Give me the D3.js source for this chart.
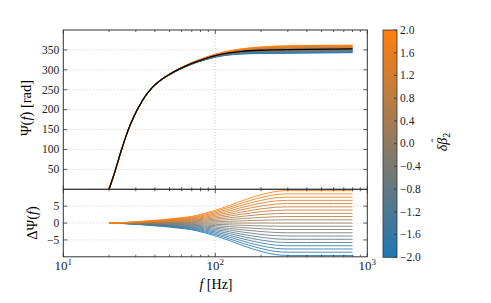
<!DOCTYPE html>
<html>
<head>
<meta charset="utf-8">
<script src="https://cdn.jsdelivr.net/npm/d3@7"></script>
<style>
  body { margin: 0; background: #fff; }
  svg { display: block; font-family: "Liberation Serif", serif; }
  .grid line { stroke: #c4c4c4; stroke-dasharray: 1,2; stroke-width: 0.8; }
  .tick-label { font-size: 11.5px; fill: #222; }
</style>
</head>
<body>
<div id="chart"></div>
<script>
// frequency samples (Hz)
const freqs = [20, 22, 24, 27, 30, 33, 36, 40, 45, 50, 56, 63, 70, 85, 100, 124, 150, 200, 250, 300, 400, 600, 800];
// central phase Psi(f) for delta beta = 0 (rad)
const psi0 = [0, 48, 96, 153.5, 192.5, 221.6, 242.8, 262, 277.6, 288.6, 299.1, 308.5, 316, 327.5, 335.5, 342.5, 346.3, 349.2, 350.3, 350.9, 351.6, 352.2, 352.5];
// phase shift for delta beta = +2 (rad)
const dpsiTop = [0, 0.05, 0.12, 0.25, 0.38, 0.52, 0.65, 0.82, 1.0, 1.2, 1.45, 1.7, 2.0, 2.9, 3.8, 5.2, 6.6, 8.4, 9.35, 9.6, 9.6, 9.6, 9.6];
// delta beta values, one curve each
const betas = [-2.0, -1.8, -1.6, -1.4, -1.2, -1.0, -0.8, -0.6, -0.4, -0.2, 0.0, 0.2, 0.4, 0.6, 0.8, 1.0, 1.2, 1.4, 1.6, 1.8, 2.0];
const topTicks = [50, 100, 150, 200, 250, 300, 350];
const bottomTicks = [-5, 0, 5];
const cbTicks = [-2.0, -1.6, -1.2, -0.8, -0.4, 0.0, 0.4, 0.8, 1.2, 1.6, 2.0];
const xMajor = [10, 100, 1000];

const width = 491, height = 303;
const plot = { left: 63.3, right: 367.3, top: 30, mid: 189.3, bottom: 256.8 };
const cb = { left: 383, right: 397, top: 30, bottom: 257.3 };

const svg = d3.select("#chart").append("svg")
    .attr("width", width).attr("height", height);

const x = d3.scaleLog().domain([10, 1000]).range([plot.left, plot.right]);
const yTop = d3.scaleLinear().domain([0, 400]).range([plot.mid, plot.top]);
const yBot = d3.scaleLinear().domain([-10, 10]).range([plot.bottom, plot.mid]);
const color = d3.scaleLinear().domain([-2, 2])
    .range(["#1f77b4", "#ff7f0e"]).interpolate(d3.interpolateRgb);
const yCb = d3.scaleLinear().domain([-2, 2]).range([cb.bottom, cb.top]);

const minorX = [];
[10, 100].forEach(d => { for (let k = 2; k <= 9; k++) minorX.push(d * k); });

// gridlines
function grid(yScale, ticks, y0, y1) {
    const g = svg.append("g").attr("class", "grid");
    g.selectAll(".h").data(ticks).join("line")
        .attr("x1", plot.left).attr("x2", plot.right)
        .attr("y1", d => yScale(d)).attr("y2", d => yScale(d));
    g.append("line").attr("x1", x(100)).attr("x2", x(100)).attr("y1", y0).attr("y2", y1);
}
grid(yTop, topTicks, plot.top, plot.mid);
grid(yBot, bottomTicks, plot.mid, plot.bottom);

function curveFor(b) {
    return freqs.map((f, i) => ({ f, top: psi0[i] + dpsiTop[i] * b / 2, bot: dpsiTop[i] * b / 2 }));
}

const lineTop = d3.line().x(d => x(d.f)).y(d => yTop(d.top)).curve(d3.curveMonotoneX);
const lineBot = d3.line().x(d => x(d.f)).y(d => yBot(d.bot)).curve(d3.curveMonotoneX);

svg.append("clipPath").attr("id", "clipTop").append("rect")
    .attr("x", plot.left).attr("y", plot.top).attr("width", plot.right - plot.left).attr("height", plot.mid - plot.top);
svg.append("clipPath").attr("id", "clipBot").append("rect")
    .attr("x", plot.left).attr("y", plot.mid).attr("width", plot.right - plot.left).attr("height", plot.bottom - plot.mid);

const gTop = svg.append("g").attr("clip-path", "url(#clipTop)");
gTop.selectAll("path.c").data(betas).join("path")
    .attr("class", "c")
    .attr("d", b => lineTop(curveFor(b)))
    .attr("fill", "none").attr("stroke", b => color(b))
    .attr("stroke-width", 1).attr("stroke-opacity", 0.85);
gTop.append("path")
    .attr("d", lineTop(curveFor(0)))
    .attr("fill", "none").attr("stroke", "#000").attr("stroke-width", 1.3);

const gBot = svg.append("g").attr("clip-path", "url(#clipBot)");
gBot.selectAll("path.c").data(betas).join("path")
    .attr("class", "c")
    .attr("d", b => lineBot(curveFor(b)))
    .attr("fill", "none").attr("stroke", b => color(b))
    .attr("stroke-width", 1).attr("stroke-opacity", 0.85);

// ticks (inward, all sides)
const axisColor = "#333";
function panelTicks(yScale, yTicks, y0, y1) {
    const g = svg.append("g").attr("stroke", axisColor).attr("stroke-width", 0.8);
    yTicks.forEach(t => {
        const yy = yScale(t);
        g.append("line").attr("x1", plot.left).attr("x2", plot.left + 4).attr("y1", yy).attr("y2", yy);
        g.append("line").attr("x1", plot.right).attr("x2", plot.right - 4).attr("y1", yy).attr("y2", yy);
    });
    xMajor.forEach(f => {
        g.append("line").attr("x1", x(f)).attr("x2", x(f)).attr("y1", y0).attr("y2", y0 + 4);
        g.append("line").attr("x1", x(f)).attr("x2", x(f)).attr("y1", y1).attr("y2", y1 - 4);
    });
    minorX.forEach(f => {
        g.append("line").attr("x1", x(f)).attr("x2", x(f)).attr("y1", y0).attr("y2", y0 + 2);
        g.append("line").attr("x1", x(f)).attr("x2", x(f)).attr("y1", y1).attr("y2", y1 - 2);
    });
}
panelTicks(yTop, topTicks, plot.top, plot.mid);
panelTicks(yBot, bottomTicks, plot.mid, plot.bottom);

// frames
[[plot.top, plot.mid], [plot.mid, plot.bottom]].forEach(([a, b]) => {
    svg.append("rect").attr("x", plot.left).attr("y", a)
        .attr("width", plot.right - plot.left).attr("height", b - a)
        .attr("fill", "none").attr("stroke", axisColor).attr("stroke-width", 1);
});

// y tick labels
const fmt = d => (d < 0 ? "\u2212" + Math.abs(d) : String(d));
svg.append("g").selectAll("text").data(topTicks).join("text")
    .attr("class", "tick-label").attr("x", plot.left - 4).attr("y", d => yTop(d))
    .attr("dy", "0.33em").attr("text-anchor", "end").text(fmt);
svg.append("g").selectAll("text").data(bottomTicks).join("text")
    .attr("class", "tick-label").attr("x", plot.left - 4).attr("y", d => yBot(d))
    .attr("dy", "0.33em").attr("text-anchor", "end").text(fmt);

// x tick labels 10^n
xMajor.forEach((f, i) => {
    const t = svg.append("text").attr("class", "tick-label")
        .attr("x", x(f)).attr("y", 270).attr("text-anchor", "middle")
        .style("font-size", "13px");
    t.append("tspan").text("10");
    t.append("tspan").attr("dy", -5.5).style("font-size", "9px").text(String(i + 1));
});

// axis labels
const xl = svg.append("text").attr("x", 216).attr("y", 289).attr("text-anchor", "middle")
    .style("font-size", "14px");
xl.append("tspan").style("font-style", "italic").text("f");
xl.append("tspan").text(" [Hz]");

const yl = svg.append("text").attr("transform", `translate(31,108) rotate(-90)`)
    .attr("text-anchor", "middle").style("font-size", "14.5px");
yl.append("tspan").text("\u03A8(");
yl.append("tspan").style("font-style", "italic").text("f");
yl.append("tspan").text(") [rad]");

const yl2 = svg.append("text").attr("transform", `translate(37,223) rotate(-90)`)
    .attr("text-anchor", "middle").style("font-size", "14.5px");
yl2.append("tspan").text("\u0394\u03A8(");
yl2.append("tspan").style("font-style", "italic").text("f");
yl2.append("tspan").text(")");

// colorbar
const grad = svg.append("defs").append("linearGradient").attr("id", "cbGrad")
    .attr("x1", 0).attr("y1", 1).attr("x2", 0).attr("y2", 0);
grad.selectAll("stop").data(betas).join("stop")
    .attr("offset", d => (d + 2) / 4).attr("stop-color", d => color(d));
svg.append("rect").attr("x", cb.left).attr("y", cb.top)
    .attr("width", cb.right - cb.left).attr("height", cb.bottom - cb.top)
    .attr("fill", "url(#cbGrad)").attr("stroke", axisColor).attr("stroke-width", 0.8);
const gcb = svg.append("g");
gcb.selectAll("line").data(cbTicks).join("line")
    .attr("x1", cb.right - 3).attr("x2", cb.right)
    .attr("y1", d => yCb(d)).attr("y2", d => yCb(d))
    .attr("stroke", axisColor).attr("stroke-width", 0.8);
gcb.selectAll("text").data(cbTicks).join("text")
    .attr("class", "tick-label").attr("x", cb.right + 3).attr("y", d => yCb(d))
    .attr("dy", "0.33em")
    .text(d => (d < 0 ? "\u2212" : "") + Math.abs(d).toFixed(1));

// colorbar label: delta beta-hat subscript 2
const cl = svg.append("g").attr("transform", `translate(447,142) rotate(-90)`);
const clt = cl.append("text").attr("text-anchor", "middle")
    .style("font-size", "14px").style("font-style", "italic");
clt.append("tspan").text("\u03B4\u03B2");
clt.append("tspan").attr("dy", 3).style("font-size", "10px").style("font-style", "normal").text("2");
cl.append("text").attr("x", 1.5).attr("y", -8).attr("text-anchor", "middle")
    .style("font-size", "11px").text("\u02C6");
</script>
</body>
</html>
